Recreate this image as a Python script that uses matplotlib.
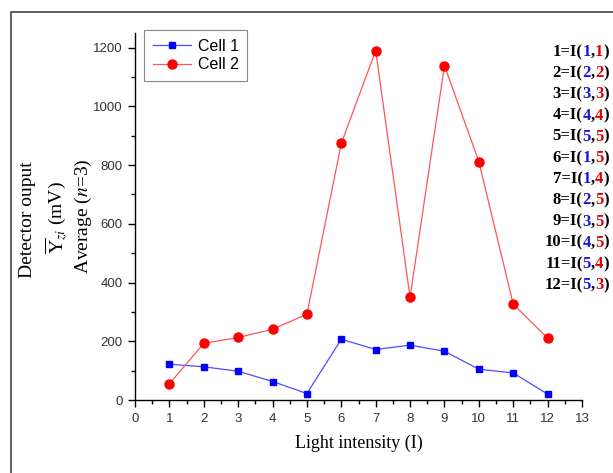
import matplotlib.pyplot as plt
from matplotlib.patches import Rectangle
from matplotlib.ticker import MultipleLocator

# data
intensity = [1, 2, 3, 4, 5, 6, 7, 8, 9, 10, 11, 12]
cell1 = [122, 113, 98, 63, 22, 207, 172, 187, 166, 105, 92, 20]
cell2 = [55, 193, 213, 241, 292, 874, 1190, 350, 1139, 812, 326, 211]

# key on the right: I(a, b)
key_a = [1, 2, 3, 4, 5, 1, 1, 2, 3, 4, 5, 5]
key_b = [1, 2, 3, 4, 5, 5, 4, 5, 5, 5, 4, 3]

W, H = 613, 473
fig = plt.figure(figsize=(W / 100, H / 100), dpi=100)
ax = fig.add_axes([135 / W, 1 - 400 / H, 447 / W, 367 / H])

ax.plot(intensity, cell1, color='#4d4dff', lw=0.9, marker='s', ms=5,
        mfc='#0000ff', mec='#0000ff', label='Cell 1')
ax.plot(intensity, cell2, color='#ff5555', lw=0.9, marker='o', ms=6.5,
        mfc='#ff0000', mec='#ff0000', label='Cell 2')

ax.set_xlim(0, 13)
ax.set_ylim(0, 1250)
ax.xaxis.set_major_locator(MultipleLocator(1))
ax.xaxis.set_minor_locator(MultipleLocator(0.5))
ax.yaxis.set_major_locator(MultipleLocator(200))
ax.yaxis.set_minor_locator(MultipleLocator(100))
ax.spines['top'].set_visible(False)
ax.spines['right'].set_visible(False)
for s in ['left', 'bottom']:
    ax.spines[s].set_linewidth(1.0)
ax.tick_params(which='major', direction='out', length=5, width=1,
               labelsize=9.5, pad=4)
ax.tick_params(which='minor', direction='out', length=3, width=1)
for lab in ax.get_xticklabels() + ax.get_yticklabels():
    lab.set_fontfamily('Liberation Sans')
    lab.set_color('#333333')

ax.set_xlabel('Light intensity (I)', family='Liberation Serif', fontsize=13,
              labelpad=7)

leg = ax.legend(loc='upper left', bbox_to_anchor=(9 / 447, 1 + 3 / 367),
                prop={'family': 'Liberation Sans', 'size': 11.5},
                fancybox=False, framealpha=1, edgecolor='#888888',
                handlelength=2.4, borderpad=0.55, labelspacing=0.22,
                handletextpad=0.4, borderaxespad=0)
leg.get_frame().set_linewidth(0.8)

# y label, three lines
serif = {'family': 'Liberation Serif', 'size': 14, 'rotation': 90,
         'va': 'center', 'ha': 'center'}
fig.text(27 / W, 1 - 220 / H, 'Detector ouput', **serif)
fig.text(56 / W, 1 - 218 / H, r'$\overline{\mathrm{Y}}_{zi}$ (mV)',
         math_fontfamily='stix', **serif)
fig.text(83 / W, 1 - 216 / H, r'Average ($n$=3)',
         math_fontfamily='stix', **serif)

# coloured key on the right, right aligned at x=609
renderer = fig.canvas.get_renderer()
for i in range(len(intensity)):
    y = 1 - (56 + i * 21.2) / H
    pieces = [(f'{intensity[i]}=I(', 'black'), (str(key_a[i]), '#1515e0'),
              (',', 'black'), (str(key_b[i]), '#e00000'), (')', 'black')]
    texts = []
    for txt, col in pieces:
        t = fig.text(0, y, txt, family='Liberation Serif', weight='bold',
                     fontsize=12, color=col, va='baseline', ha='left')
        texts.append(t)
    widths = [t.get_window_extent(renderer).width for t in texts]
    x = 609 - sum(widths)
    for t, w in zip(texts, widths):
        t.set_x(x / W)
        x += w

# outer frame of the figure panel
fig.add_artist(Rectangle((11 / W, -0.1), 1.2, 1 - 12 / H + 0.1,
                         transform=fig.transFigure, fill=False,
                         edgecolor='#444444', lw=1.2))

fig.savefig('out.png', dpi=100)
